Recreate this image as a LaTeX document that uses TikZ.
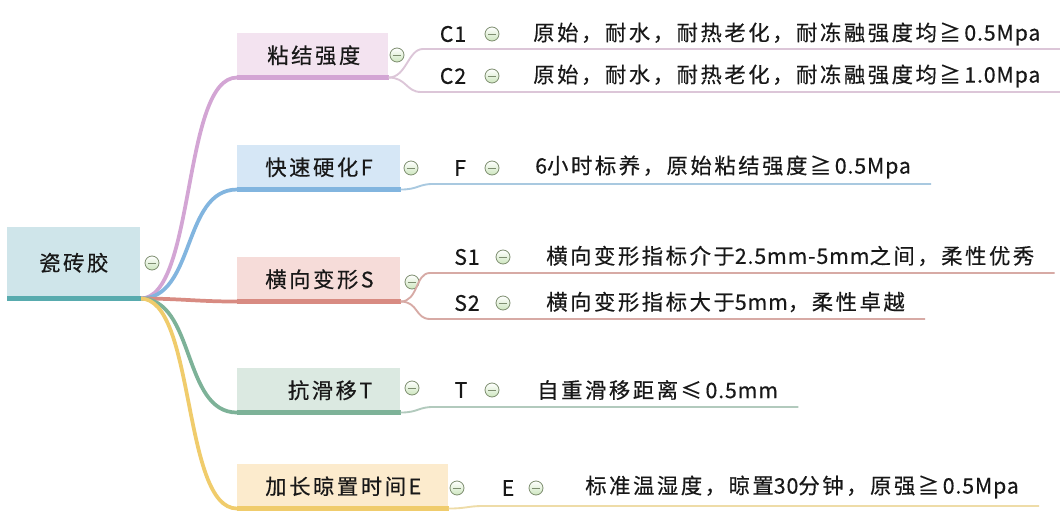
\documentclass[tikz,border=0pt]{standalone}
\usepackage{fontspec}
\setmainfont{Noto Sans CJK SC}[LetterSpace=12, FakeBold=0.4]
\newfontfamily\lat{Noto Sans CJK SC}[LetterSpace=4, FakeBold=0.4]
\usetikzlibrary{positioning}

\definecolor{rootfill}{HTML}{CFE5EA}
\definecolor{rootbar}{HTML}{58ABAE}
\definecolor{pinkfill}{HTML}{F3E3F0}
\definecolor{pinkbar}{HTML}{D3A5D4}
\definecolor{pinkleaf}{HTML}{DCC6D8}
\definecolor{bluefill}{HTML}{D6E7F6}
\definecolor{bluebar}{HTML}{82B5DF}
\definecolor{blueleaf}{HTML}{A9C9E0}
\definecolor{redfill}{HTML}{F6DCD9}
\definecolor{redbar}{HTML}{D88B82}
\definecolor{redleaf}{HTML}{D7AAA5}
\definecolor{greenfill}{HTML}{DBE9E1}
\definecolor{greenbar}{HTML}{7DB298}
\definecolor{greenleaf}{HTML}{B2CABD}
\definecolor{yellowfill}{HTML}{FCEBCD}
\definecolor{yellowbar}{HTML}{F0CC6C}
\definecolor{yellowleaf}{HTML}{EEDCA8}
\definecolor{togline}{HTML}{7E8E70}
\definecolor{togfill}{HTML}{CDE6BE}
\definecolor{ink}{HTML}{181818}

\tikzset{
  topic/.style={fill=#1, anchor=north west, minimum height=33pt, inner xsep=21pt, inner ysep=0pt, align=right, text=ink},
  toggle/.style={circle, draw=togline, line width=0.6pt, top color=white, bottom color=togfill, minimum size=10.5pt, inner sep=0pt,
    path picture={\draw[togline, line width=0.6pt] ([xshift=2.2pt]path picture bounding box.west) -- ([xshift=-2.2pt]path picture bounding box.east);}},
  tag/.style={text=ink, inner sep=0pt, font=\fontsize{16pt}{19pt}\lat},
  leaf/.style={text=ink, anchor=west, inner xsep=15pt, inner ysep=0pt},
  branch/.style={line width=2.8pt, line cap=round},
  bar/.style={line width=3.4pt},
  leafline/.style={line width=1.4pt}
}

\begin{document}
\begin{tikzpicture}[x=0.75pt, y=-0.75pt, font=\fontsize{16pt}{19pt}\selectfont]
    \fill[white] (0,0) rectangle (1060,524);
    \useasboundingbox (0,0) rectangle (1060,524);

    % Root and main topics
    \node[fill=rootfill, anchor=north west, minimum width=99.75pt, minimum height=53.25pt, inner sep=0pt, text=ink] (root) at (7,227) {瓷砖胶};
    \node[topic=pinkfill, text width=71.25pt] (bond) at (237,33) {粘结强度};
    \node[topic=bluefill, text width=80.25pt] (fast) at (237,145) {快速硬化F};
    \node[topic=redfill, text width=80.25pt] (deform) at (237,257) {横向变形S};
    \node[topic=greenfill, text width=80.25pt] (slip) at (237,368) {抗滑移T};
    \node[topic=yellowfill, text width=116.25pt] (open) at (237,464) {加长晾置时间E};

    % Branches from the root
    \draw[branch, pinkbar] (root.south east) .. controls +(55,0) and +(-55,0) .. (bond.south west);
    \draw[branch, bluebar] (root.south east) .. controls +(55,0) and +(-55,0) .. (fast.south west);
    \draw[branch, redbar] (root.south east) .. controls +(40,0) and +(-40,0) .. (deform.south west);
    \draw[branch, greenbar] (root.south east) .. controls +(55,0) and +(-55,0) .. (slip.south west);
    \draw[branch, yellowbar] (root.south east) .. controls +(55,0) and +(-55,0) .. (open.south west);

    % Bars under the boxes
    \draw[line width=4pt, rootbar] (root.south west) -- (root.south east);
    \draw[bar, pinkbar] (bond.south west) -- (bond.south east);
    \draw[bar, bluebar] (fast.south west) -- (fast.south east);
    \draw[bar, redbar] (deform.south west) -- (deform.south east);
    \draw[bar, greenbar] (slip.south west) -- (slip.south east);
    \draw[bar, yellowbar] (open.south west) -- (open.south east);

    % Collapse buttons of the topics
    \node[toggle] (roottog) at (152,263) {};
    \node[toggle] (bondtog) at (397,55) {};
    \node[toggle] (fasttog) at (411,168) {};
    \node[toggle] (deformtog) at (412,282) {};
    \node[toggle] (sliptog) at (412,388) {};
    \node[toggle] (opentog) at (457,488) {};

    % Leaves
    \node[tag] (c1) at (453,34) {C1};
    \node[toggle] (c1tog) at (492,34) {};
    \node[leaf] (c1t) at (513,34) {原始，耐水，耐热老化，耐冻融强度均≧\,{\lat 0.5Mpa}};
    \node[tag] (c2) at (453,76) {C2};
    \node[toggle] (c2tog) at (492,76) {};
    \node[leaf] (c2t) at (513,76) {原始，耐水，耐热老化，耐冻融强度均≧\,{\lat 1.0Mpa}};
    \node[tag] (f) at (460,168) {F};
    \node[toggle] (ftog) at (492,168) {};
    \node[leaf] (ft) at (515,167) {{\lat 6}小时标养，原始粘结强度≧\,{\lat 0.5Mpa}};
    \node[tag] (s1) at (467,257) {S1};
    \node[toggle] (s1tog) at (503,257) {};
    \node[leaf] (s1t) at (526,256) {横向变形指标介于{\lat 2.5mm-5mm}之间，柔性优秀};
    \node[tag] (s2) at (467,303) {S2};
    \node[toggle] (s2tog) at (503,303) {};
    \node[leaf] (s2t) at (526,302) {横向变形指标大于{\lat 5mm}，柔性卓越};
    \node[tag] (t) at (461,390) {T};
    \node[toggle] (ttog) at (492,390) {};
    \node[leaf] (tt) at (517,390) {自重滑移距离≤\,{\lat 0.5mm}};
    \node[tag] (e) at (508,488) {E};
    \node[toggle] (etog) at (536,488) {};
    \node[leaf] (et) at (565,487) {标准温湿度，晾置{\lat 30}分钟，原强≧\,{\lat 0.5Mpa}};

    % Underlines of the leaves
    \coordinate (c1u) at (423,49);
    \coordinate (c2u) at (421,92);
    \coordinate (fu) at (433,184);
    \coordinate (s1u) at (430,273);
    \coordinate (s2u) at (430,319);
    \coordinate (tu) at (433,407);
    \coordinate (eu) at (483,506);
    \draw[leafline, pinkleaf] (bond.south east) .. controls +(18,0) and +(-15,0) .. (c1u) -- (c1u -| c1t.east);
    \draw[leafline, pinkleaf] (bond.south east) .. controls +(18,0) and +(-15,0) .. (c2u) -- (c2u -| c2t.east);
    \draw[leafline, blueleaf] (fast.south east) .. controls +(18,0) and +(-15,0) .. (fu) -- (fu -| ft.east);
    \draw[leafline, redleaf] (deform.south east) .. controls +(18,0) and +(-15,0) .. (s1u) -- (s1u -| s1t.east);
    \draw[leafline, redleaf] (deform.south east) .. controls +(18,0) and +(-15,0) .. (s2u) -- (s2u -| s2t.east);
    \draw[leafline, greenleaf] (slip.south east) .. controls +(18,0) and +(-15,0) .. (tu) -- (tu -| tt.east);
    \draw[leafline, yellowleaf] (open.south east) .. controls +(18,0) and +(-15,0) .. (eu) -- (eu -| et.east);
\end{tikzpicture}
\end{document}
